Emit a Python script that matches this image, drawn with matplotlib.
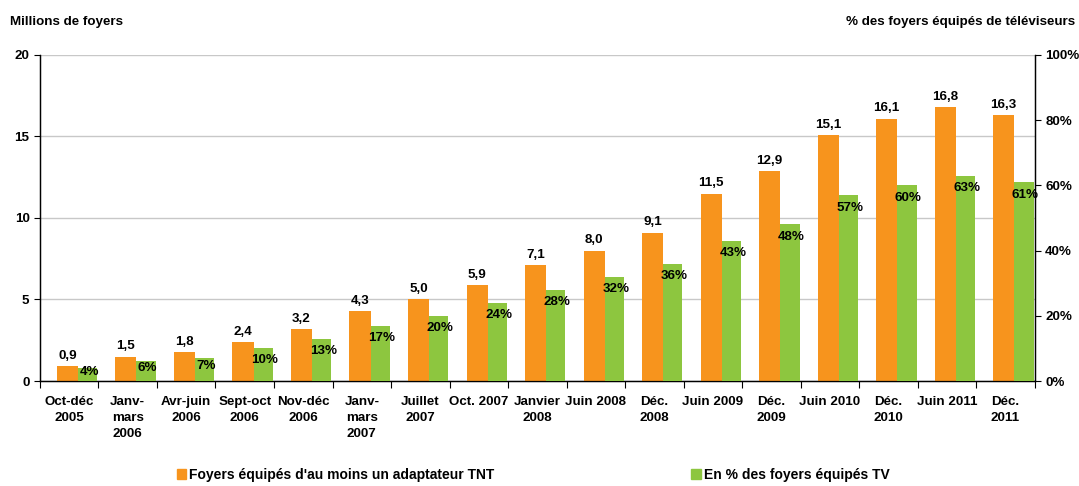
import matplotlib.pyplot as plt
from matplotlib.patches import Patch
import numpy as np

plt.rcParams['font.family'] = ['Liberation Sans', 'DejaVu Sans']
plt.rcParams['font.weight'] = 'bold'

# data
periods = ['Oct-déc\n2005', 'Janv-\nmars\n2006', 'Avr-juin\n2006', 'Sept-oct\n2006', 'Nov-déc\n2006',
           'Janv-\nmars\n2007', 'Juillet\n2007', 'Oct. 2007', 'Janvier\n2008', 'Juin 2008',
           'Déc.\n2008', 'Juin 2009', 'Déc.\n2009', 'Juin 2010', 'Déc.\n2010', 'Juin 2011', 'Déc.\n2011']
foyers_tnt = [0.9, 1.5, 1.8, 2.4, 3.2, 4.3, 5.0, 5.9, 7.1, 8.0, 9.1, 11.5, 12.9, 15.1, 16.1, 16.8, 16.3]
pct_tv = [4, 6, 7, 10, 13, 17, 20, 24, 28, 32, 36, 43, 48, 57, 60, 63, 61]

orange = '#F7941D'
green = '#8DC63F'
fs = 9.6

fig = plt.figure(figsize=(10.79, 4.86), dpi=100)
ax = fig.add_axes([0.037, 0.216, 0.922, 0.671])
ax2 = ax.twinx()

x = np.arange(len(periods))
ax.bar(x - 0.21, foyers_tnt, width=0.36, align='edge', color=orange, zorder=3)
ax2.bar(x + 0.15, pct_tv, width=0.33, align='edge', color=green, zorder=3)

for xi, v in zip(x, foyers_tnt):
    ax.annotate(f'{v:.1f}'.replace('.', ','), (xi - 0.03, v), xytext=(0, 3),
                textcoords='offset points', ha='center', va='bottom', fontsize=fs, fontweight='bold')
for xi, p in zip(x, pct_tv):
    # labels sit just under the top of the green bar (less so on the short ones)
    drop = min(9, p * 0.8)
    ax2.annotate(f'{p}%', (xi + 0.34, p), xytext=(0, -drop),
                 textcoords='offset points', ha='center', va='center', fontsize=fs, fontweight='bold')

ax.set_xlim(-0.5, len(periods) - 0.5)
ax.set_ylim(0, 20)
ax2.set_ylim(0, 100)
ax.set_yticks([0, 5, 10, 15, 20])
ax2.set_yticks([0, 20, 40, 60, 80, 100])
ax2.set_yticklabels([f'{t}%' for t in range(0, 101, 20)])

ax.set_xticks(x)
ax.set_xticklabels(periods, fontsize=fs, fontweight='bold', linespacing=1.45)
ax.set_xticks(np.arange(-0.5, len(periods)), minor=True)
ax.tick_params(axis='x', which='major', length=0, pad=11)
ax.tick_params(axis='x', which='minor', length=5, width=0.8)
ax.tick_params(axis='y', length=4, width=0.8, labelsize=fs)
ax2.tick_params(axis='y', length=4, width=0.8, labelsize=fs)
for lab in ax.get_yticklabels() + ax2.get_yticklabels():
    lab.set_fontweight('bold')

ax.yaxis.grid(True, color='#C8C8C8', linewidth=1.0, zorder=0)
ax.set_axisbelow(True)
ax2.set_zorder(ax.get_zorder() + 1)
ax2.patch.set_visible(False)
for a in (ax, ax2):
    a.spines['top'].set_visible(False)
    a.spines['left'].set_linewidth(0.9)
    a.spines['right'].set_linewidth(0.9)
    a.spines['bottom'].set_linewidth(0.9)

fig.text(0.009, 0.955, 'Millions de foyers', fontsize=fs, fontweight='bold', ha='left', va='center')
fig.text(0.996, 0.955, '% des foyers équipés de téléviseurs', fontsize=fs, fontweight='bold',
         ha='right', va='center')

handles = [Patch(color=orange), Patch(color=green)]
labels = ["Foyers équipés d'au moins un adaptateur TNT", 'En % des foyers équipés TV']
fig.legend(handles, labels, loc='lower left', bbox_to_anchor=(0.152, -0.017), ncol=2, frameon=False,
           handlelength=0.7, handleheight=0.8, handletextpad=0.2, columnspacing=14.2,
           prop={'weight': 'bold', 'size': 10})

fig.savefig('out.png', dpi=100)
